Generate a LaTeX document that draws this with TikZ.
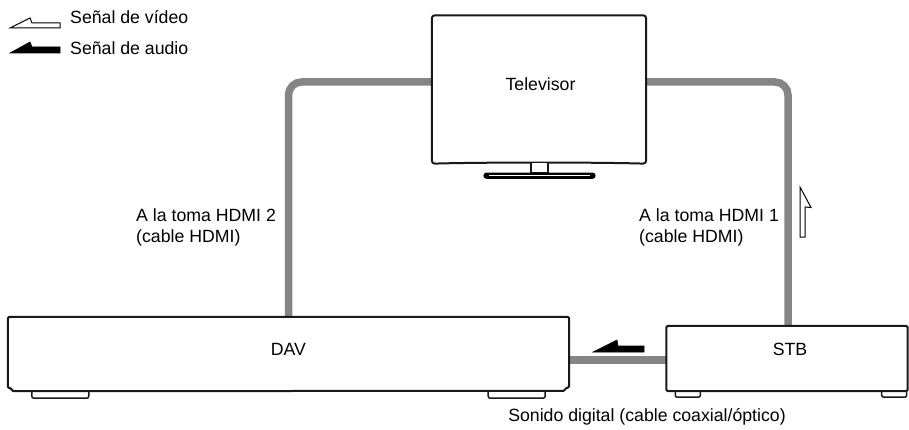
\documentclass[tikz,border=0pt]{standalone}
\usepackage{fontspec}
\setmainfont{Liberation Sans}
\usetikzlibrary{calc}
\begin{document}
\begin{tikzpicture}[x=1pt,y=-1pt,
  outline/.style={line width=2pt,line join=round,draw=black!90},
  cable/.style={line width=7.5pt,draw=black!48},
  foot/.style={line width=1.5pt,draw=black!90,fill=white,rounded corners=2pt},
  lbl/.style={inner sep=0pt,font=\fontsize{17.7}{21.5}\selectfont,align=left},
  box/.style={inner sep=0pt,draw=none},
  vidarrow/.style={line width=1pt,draw=black,fill=white,line join=miter},
  audarrow/.style={line width=0.6pt,draw=black,fill=black,line join=miter}]
\useasboundingbox (0,0) rectangle (909,430);

% nodes (shapes)
\node[box,minimum width=214,minimum height=148] (tv) at (539,89.5) {};
\node[box,minimum width=561,minimum height=74] (dav) at (288.5,354) {};
\node[box,minimum width=241,minimum height=65] (stb) at (787,358.5) {};

% cable ports
\coordinate (tvL) at (tv.west |- 0,82);
\coordinate (tvR) at (tv.east |- 0,82);
\coordinate (stbTop) at ($(stb.north)+(1,0)$);
\coordinate (davR) at (dav.east |- 0,360);
\coordinate (stbL) at (stb.west |- 0,360);

% cables
\draw[cable,rounded corners=13pt] (tvL) -| (dav.north);
\draw[cable,rounded corners=13pt] (tvR) -| (stbTop);
\draw[cable] (davR) -- (stbL);

% TV
\draw[outline,fill=white,rounded corners=3pt] (tv.north west) -- (tv.north east) -- (tv.south east)
  .. controls ($(tv.south)+(60,-1.5)$) and ($(tv.south)+(-60,-1.5)$) .. (tv.south west) -- cycle;
\draw[outline,line width=1.6pt,fill=white] ($(tv.south)+(-8,-1)$) rectangle ++(17,10.5);
\draw[line width=1.2pt,draw=black,fill=black,rounded corners=2.5pt] ($(tv.south)+(-55,9.5)$) rectangle ++(111,5);
\draw[white,line width=0.6pt] ($(tv.south)+(-50,12)$) -- ++(101,0);
\node[lbl] (tvtext) at (540.5,84) {Televisor};

% DAV
\draw[foot] ($(dav.south west)+(24,-3)$) rectangle ++(57,10);
\draw[foot] ($(dav.south east)+(-81,-3)$) rectangle ++(57,10);
\draw[outline,fill=white,rounded corners=1.5pt] ($(dav.south west)+(0,-3)$) -- (dav.north west) -- (dav.north east)
  -- ++(0,71) -- ++(-4,0) -- ++(0,3) -- ($(dav.south west)+(4,0)$) -- ++(0,-3) -- cycle;
\node[lbl] (davtext) at (288.5,349) {DAV};

% STB
\draw[foot] ($(stb.south west)+(9,-3)$) rectangle ++(25,9);
\draw[foot] ($(stb.south east)+(-26,-3)$) rectangle ++(25,9);
\draw[outline,fill=white,rounded corners=1.5pt] (stb.north west) rectangle (stb.south east);
\node[lbl] (stbtext) at (790,349.5) {STB};

% signal arrows
\draw[audarrow] (593,352) -- (617,340) -- (618,346) -- (644,346) -- (644,352) -- cycle;
\draw[vidarrow] (800,187) -- (811,207.5) -- (805,207) -- (805,237) -- (800,237) -- cycle;

% labels
\node[lbl,anchor=north west] (l2) at (136,208.3) {A la toma HDMI 2\\(cable HDMI)};
\node[lbl,anchor=north west] (l1) at (639,208.3) {A la toma HDMI 1\\(cable HDMI)};
\node[lbl,anchor=base] (coax) at (647,421) {Sonido digital (cable coaxial/óptico)};

% legend
\draw[vidarrow] (10,28) -- (30,18) -- (32,23) -- (60,23) -- (60,28) -- cycle;
\draw[audarrow] (10,53) -- (30,42) -- (32,47) -- (60,47) -- (60,53) -- cycle;
\node[lbl,anchor=base west] (legv) at (70,24) {Señal de vídeo};
\node[lbl,anchor=base west] (lega) at (70,55) {Señal de audio};
\end{tikzpicture}
\end{document}
